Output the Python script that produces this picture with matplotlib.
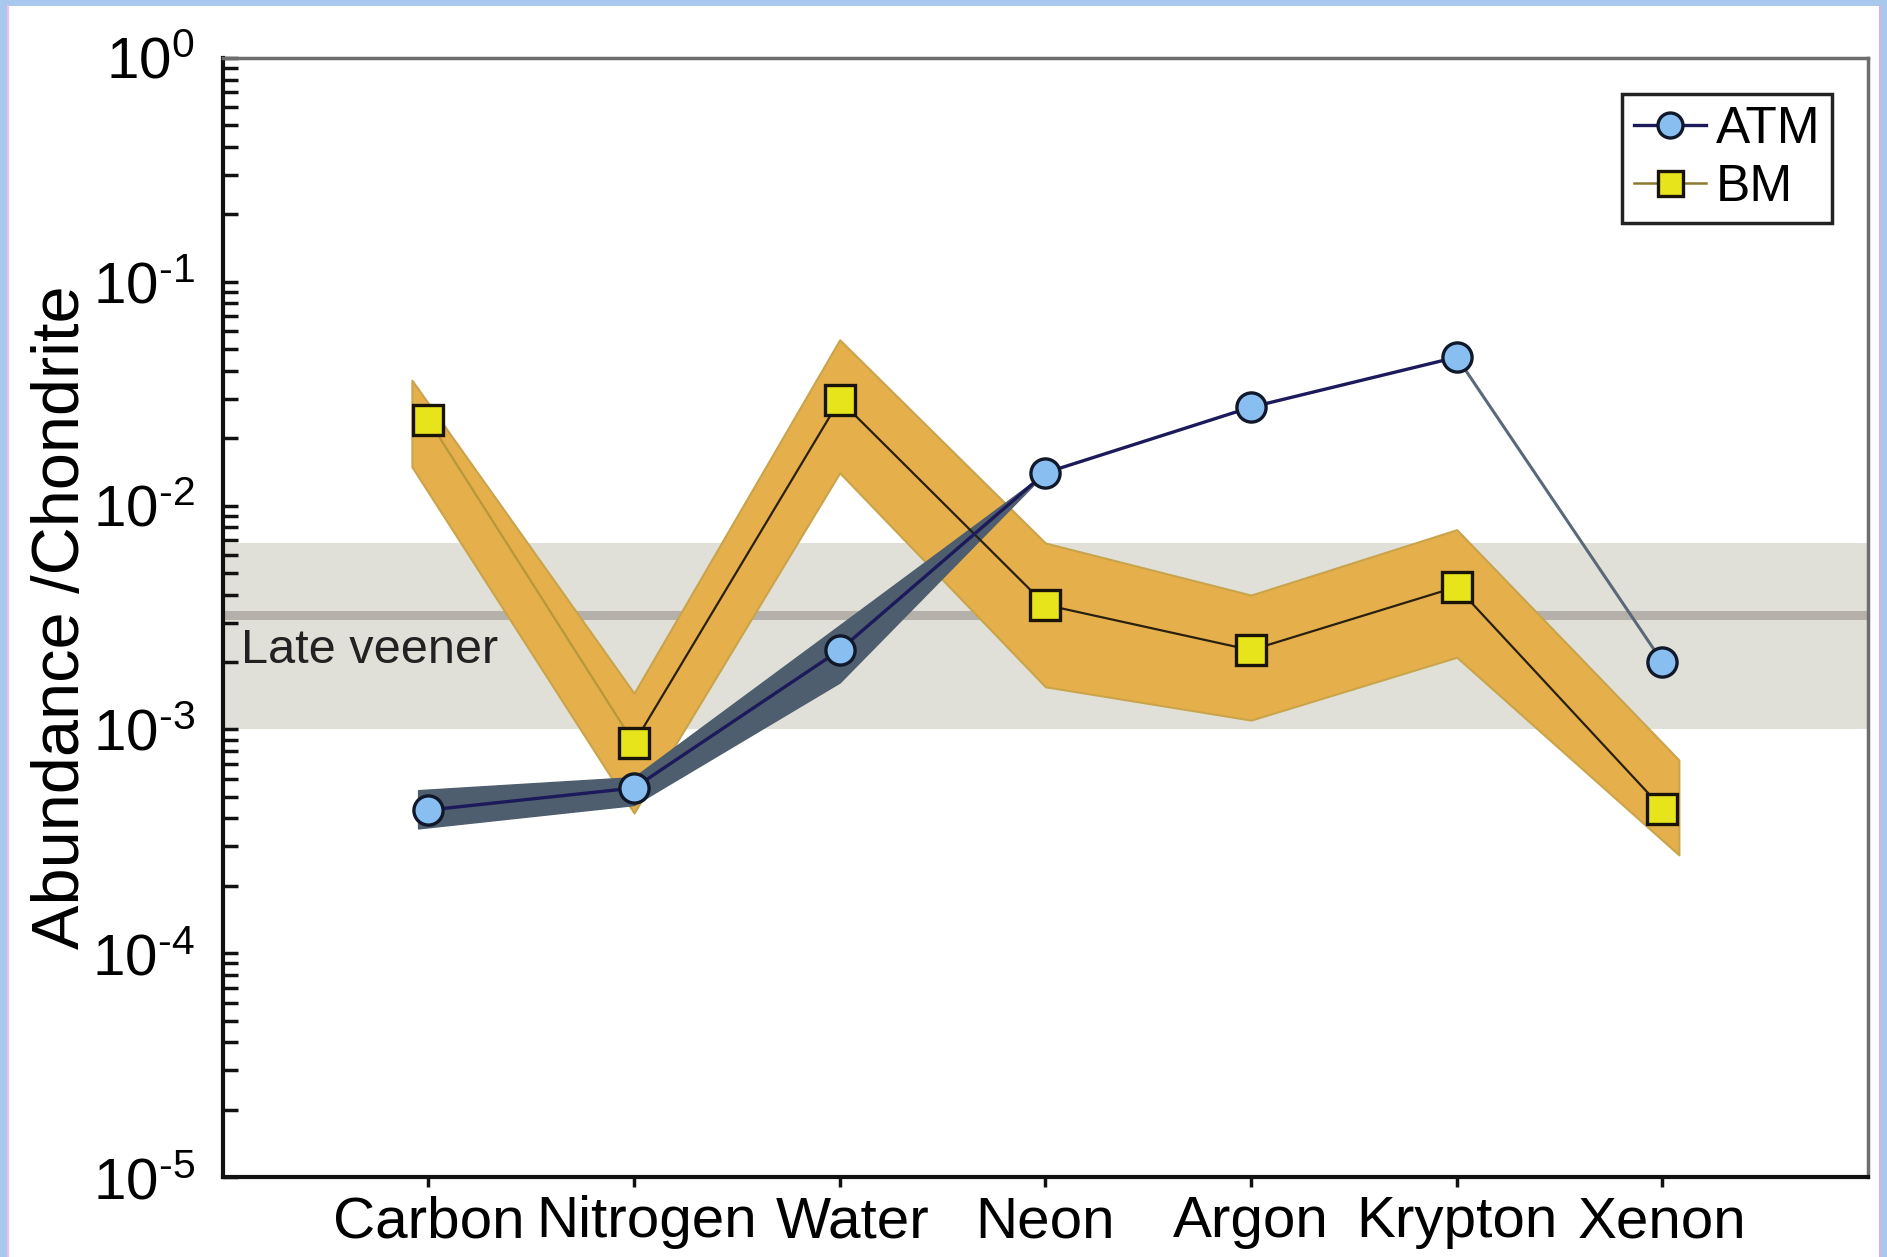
import numpy as np
import matplotlib
matplotlib.use("Agg")
import matplotlib.pyplot as plt
from matplotlib.lines import Line2D
from matplotlib.patches import Rectangle
import matplotlib.ticker as mticker
import matplotlib.transforms as mtransforms

plt.rcParams['font.family'] = ['Liberation Sans', 'DejaVu Sans']
plt.rcParams['mathtext.fontset'] = 'custom'
plt.rcParams['mathtext.rm'] = 'Liberation Sans'
plt.rcParams['mathtext.it'] = 'Liberation Sans:italic'
plt.rcParams['mathtext.bf'] = 'Liberation Sans:bold'

# abundances normalised to chondrite
elements = ['Carbon', 'Nitrogen', 'Water', 'Neon', 'Argon', 'Krypton', 'Xenon']

atm = [4.36e-4, 5.47e-4, 2.26e-3, 1.40e-2, 2.75e-2, 4.6e-2, 2.0e-3]
atm_lo = [3.61e-4, 4.59e-4, 1.62e-3, 1.40e-2]
atm_hi = [5.35e-4, 6.12e-4, 2.92e-3, 1.40e-2]

bm = [2.41e-2, 8.68e-4, 2.96e-2, 3.6e-3, 2.26e-3, 4.33e-3, 4.43e-4]
bm_lo = [1.49e-2, 4.23e-4, 1.4e-2, 1.55e-3, 1.1e-3, 2.1e-3, 2.75e-4]
bm_hi = [3.63e-2, 1.45e-3, 5.5e-2, 6.8e-3, 3.98e-3, 7.8e-3, 7.3e-4]

veneer_lo = 1.0e-3
veneer_mid = 3.24e-3
veneer_hi = 6.8e-3

x = np.arange(1, len(elements) + 1)

fig = plt.figure(figsize=(18.87, 12.57), dpi=100)
fig.patch.set_facecolor('#a9c8ee')
fig.patches.append(Rectangle((8 / 1887, 0), 1872 / 1887, 1251 / 1257,
                             transform=fig.transFigure, facecolor='white',
                             edgecolor='none', zorder=-10))
fig.add_artist(Line2D([8 / 1887, 8 / 1887], [0, 1251 / 1257], color='#e8c0ee', lw=1.5))
fig.add_artist(Line2D([1880 / 1887, 1880 / 1887], [0, 1251 / 1257], color='#d8b0ea', lw=1.5))

ax = fig.add_axes([0.118, 0.0636, 0.872, 0.8904])
ax.set_yscale('log')
ax.set_xlim(0, 8)
ax.set_ylim(1e-5, 1)

# late veneer range
ax.axhspan(veneer_lo, veneer_hi, color='#e1e0d8', lw=0, zorder=1)
ax.axhline(veneer_mid, color='#b6b0aa', lw=6.5, zorder=1.5)
ax.text(0.011, 2.26e-3, 'Late veener', transform=ax.get_yaxis_transform(),
        fontsize=35, color='#222222', va='center', ha='left', zorder=2)

# BM band, slightly wider than the end points
bx = x.astype(float).copy()
bx[0] -= 0.08
bx[-1] += 0.08
ax.fill_between(bx, bm_lo, bm_hi, facecolor='#e5b04c', edgecolor='#c9a44a',
                lw=1.5, zorder=2)

# ATM band (carbon to neon)
ax_band = x[:4].astype(float).copy()
ax_band[0] -= 0.05
ax.fill_between(ax_band, atm_lo, atm_hi, facecolor='#4e5e6e', edgecolor='#4e5e6e',
                lw=1, zorder=3)

# BM line
ax.plot(x[:2], bm[:2], color='#b8963a', lw=1.6, zorder=4)
ax.plot(x[1:], bm[1:], color='#2a2010', lw=1.6, zorder=4)

# ATM line
ax.plot(x[:6], atm[:6], color='#1c1a5a', lw=2.4, zorder=5)
ax.plot(x[5:], atm[5:], color='#5a6878', lw=2.2, zorder=5)

ax.plot(x, bm, 's', ms=21, mfc='#e8e41c', mec='#1a1408', mew=2.4, zorder=6)
ax.plot(x, atm, 'o', ms=21, mfc='#88bff0', mec='#10182a', mew=2.4, zorder=7)

# axes styling
ax.set_xticks(x)
ax.set_xticklabels(elements, fontsize=42)
ax.tick_params(axis='x', direction='out', length=7, width=2.5, pad=6, color='#111111')
shift = mtransforms.ScaledTranslation(13 / 100, 0, fig.dpi_scale_trans)
for lab in ax.get_xticklabels()[1:3]:
    lab.set_transform(lab.get_transform() + shift)

ax.yaxis.set_major_locator(mticker.LogLocator(base=10, numticks=10))
ax.yaxis.set_minor_locator(mticker.LogLocator(base=10, subs=np.arange(2, 10), numticks=20))
ax.yaxis.set_minor_formatter(mticker.NullFormatter())
ax.yaxis.set_major_formatter(mticker.FuncFormatter(
    lambda v, pos: r'$\mathdefault{10^{%s}}$' % (r'\text{-}%d' % -round(np.log10(v))
                                                 if v < 1 else '0')))
ax.tick_params(axis='y', which='both', direction='in', length=11, width=2.5,
               labelsize=42, pad=20, color='#111111')
ax.set_ylabel('Abundance /Chondrite', fontsize=48)
ax.yaxis.set_label_coords(-0.079, 0.5)

for side in ['left', 'bottom']:
    ax.spines[side].set_linewidth(3)
    ax.spines[side].set_color('#111111')
for side in ['top', 'right']:
    ax.spines[side].set_linewidth(2.5)
    ax.spines[side].set_color('#6e6e6e')

handles = [
    Line2D([], [], color='#1c1a5a', lw=2.4, marker='o', ms=18, mfc='#88bff0',
           mec='#10182a', mew=2.4),
    Line2D([], [], color='#8a7a30', lw=1.8, marker='s', ms=18, mfc='#e8e41c',
           mec='#1a1408', mew=2.4),
]
leg = ax.legend(handles, ['ATM', 'BM'], loc='upper right', bbox_to_anchor=(0.978, 0.968),
                borderaxespad=0, fontsize=37, handlelength=1.4, handletextpad=0.2,
                labelspacing=0.18, borderpad=0.22, fancybox=False, framealpha=1)
leg.get_frame().set_edgecolor('#222222')
leg.get_frame().set_linewidth(2.5)

fig.savefig('out.png', dpi=100, facecolor=fig.get_facecolor())
